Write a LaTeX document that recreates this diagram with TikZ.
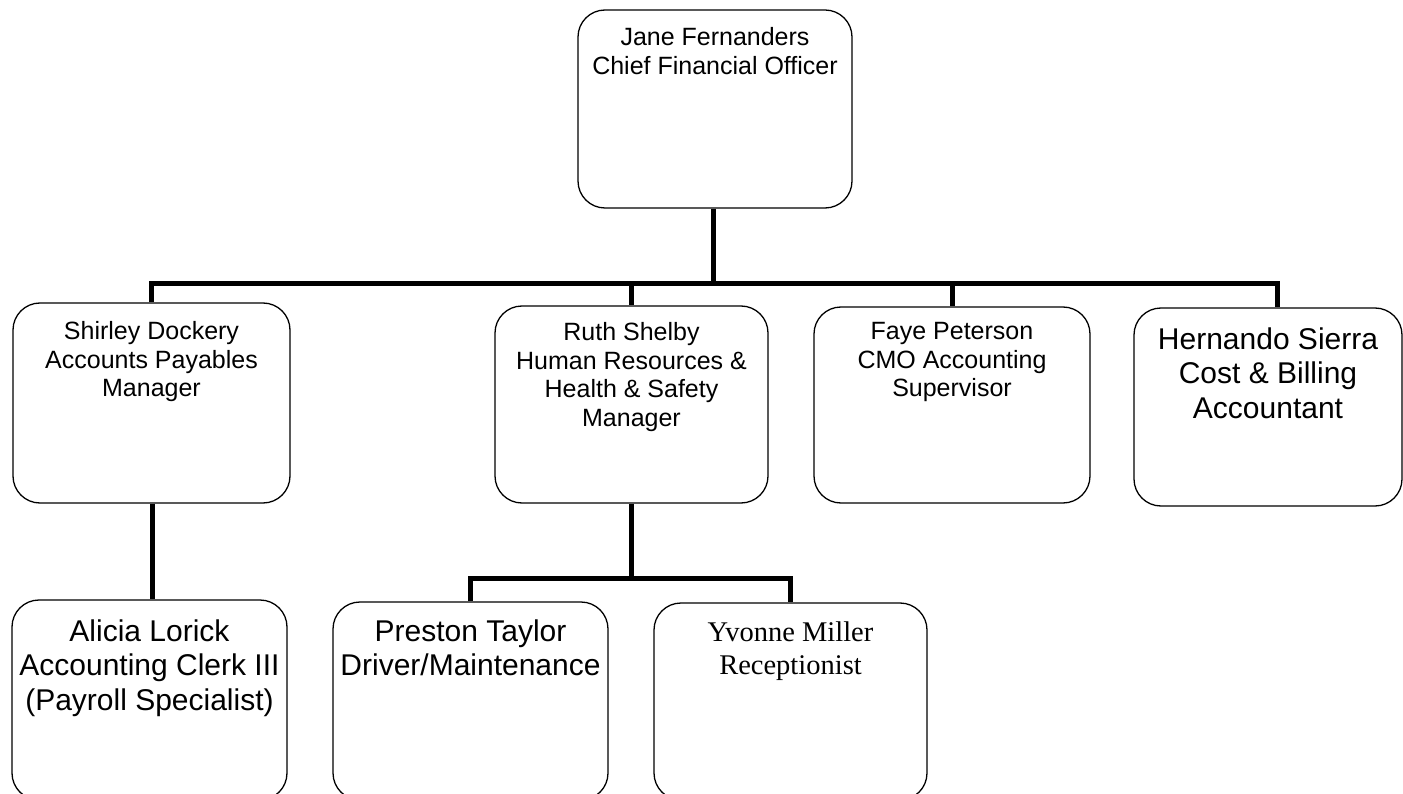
\documentclass[tikz,border=0pt]{standalone}
\usepackage{fontspec}
\setmainfont{Liberation Sans}
\newfontfamily\timesfont{Liberation Serif}
\begin{document}
\begin{tikzpicture}[x=1pt,y=-1pt,
  orgbox/.style={draw, rounded corners=27pt, line width=1.3pt, inner sep=0pt},
  txtsmall/.style={anchor=north, inner sep=0pt, align=center, font=\fontsize{25}{28.5}\selectfont},
  txtlarge/.style={anchor=north, inner sep=0pt, align=center, font=\fontsize{30}{34.5}\selectfont},
  txtserif/.style={anchor=north, inner sep=0pt, align=center, font=\timesfont\fontsize{28.5}{33}\selectfont},
  conn/.style={line width=5pt, line join=miter}]
\useasboundingbox (0,0) rectangle (1403,794);
\clip (0,0) rectangle (1403,794);
\fill[white] (0,0) rectangle (1403,794);

% boxes
\node[orgbox, minimum width=274pt, minimum height=198pt] (jane) at (715,109) {};
\node[orgbox, minimum width=277pt, minimum height=200pt] (shirley) at (151.5,403) {};
\node[orgbox, minimum width=273pt, minimum height=197pt] (ruth) at (631.5,404.5) {};
\node[orgbox, minimum width=276pt, minimum height=196pt] (faye) at (952,405) {};
\node[orgbox, minimum width=268pt, minimum height=198pt] (hern) at (1268,407) {};
\node[orgbox, minimum width=275pt, minimum height=200pt] (alicia) at (149.5,700) {};
\node[orgbox, minimum width=275pt, minimum height=198pt] (preston) at (470.5,701) {};
\node[orgbox, minimum width=273pt, minimum height=197pt] (yvonne) at (790.5,701.5) {};

% texts
\node[txtsmall] (janeT) at ([yshift=-18pt]jane.north) {Jane Fernanders\\Chief Financial Officer};
\node[txtsmall] (shirleyT) at ([yshift=-19pt]shirley.north) {Shirley Dockery\\Accounts Payables\\Manager};
\node[txtsmall] (ruthT) at ([yshift=-17pt]ruth.north) {Ruth Shelby\\Human Resources \&\\Health \& Safety\\Manager};
\node[txtsmall] (fayeT) at ([yshift=-16pt]faye.north) {Faye Peterson\\CMO Accounting\\Supervisor};
\node[txtlarge] (hernT) at ([yshift=-20pt]hern.north) {Hernando Sierra\\Cost \& Billing\\Accountant};
\node[txtlarge] (aliciaT) at ([yshift=-20pt]alicia.north) {Alicia Lorick\\Accounting Clerk III\\(Payroll Specialist)};
\node[txtlarge] (prestonT) at ([yshift=-18pt]preston.north) {Preston Taylor\\Driver/Maintenance};
\node[txtserif] (yvonneT) at ([yshift=-19pt]yvonne.north) {Yvonne Miller\\Receptionist};

% connector helpers
\coordinate (bus) at (0,284);
\coordinate (subbus) at (0,578);
\coordinate (hdrop) at ([xshift=9pt]hern.north);
\coordinate (jdrop) at ([xshift=-2pt]jane.south);
\coordinate (sdrop) at ([xshift=1pt]shirley.south);

% connectors
\draw[conn] (jdrop) -- (jdrop |- bus);
\draw[conn] (shirley.north) -- (shirley.north |- bus) -- (hdrop |- bus) -- (hdrop);
\draw[conn] (ruth.north |- bus) -- (ruth.north);
\draw[conn] (faye.north |- bus) -- (faye.north);
\draw[conn] (sdrop) -- (sdrop |- alicia.north);
\draw[conn] (ruth.south) -- (ruth.south |- subbus);
\draw[conn] (preston.north) -- (preston.north |- subbus) -- (yvonne.north |- subbus) -- (yvonne.north);
\end{tikzpicture}
\end{document}
